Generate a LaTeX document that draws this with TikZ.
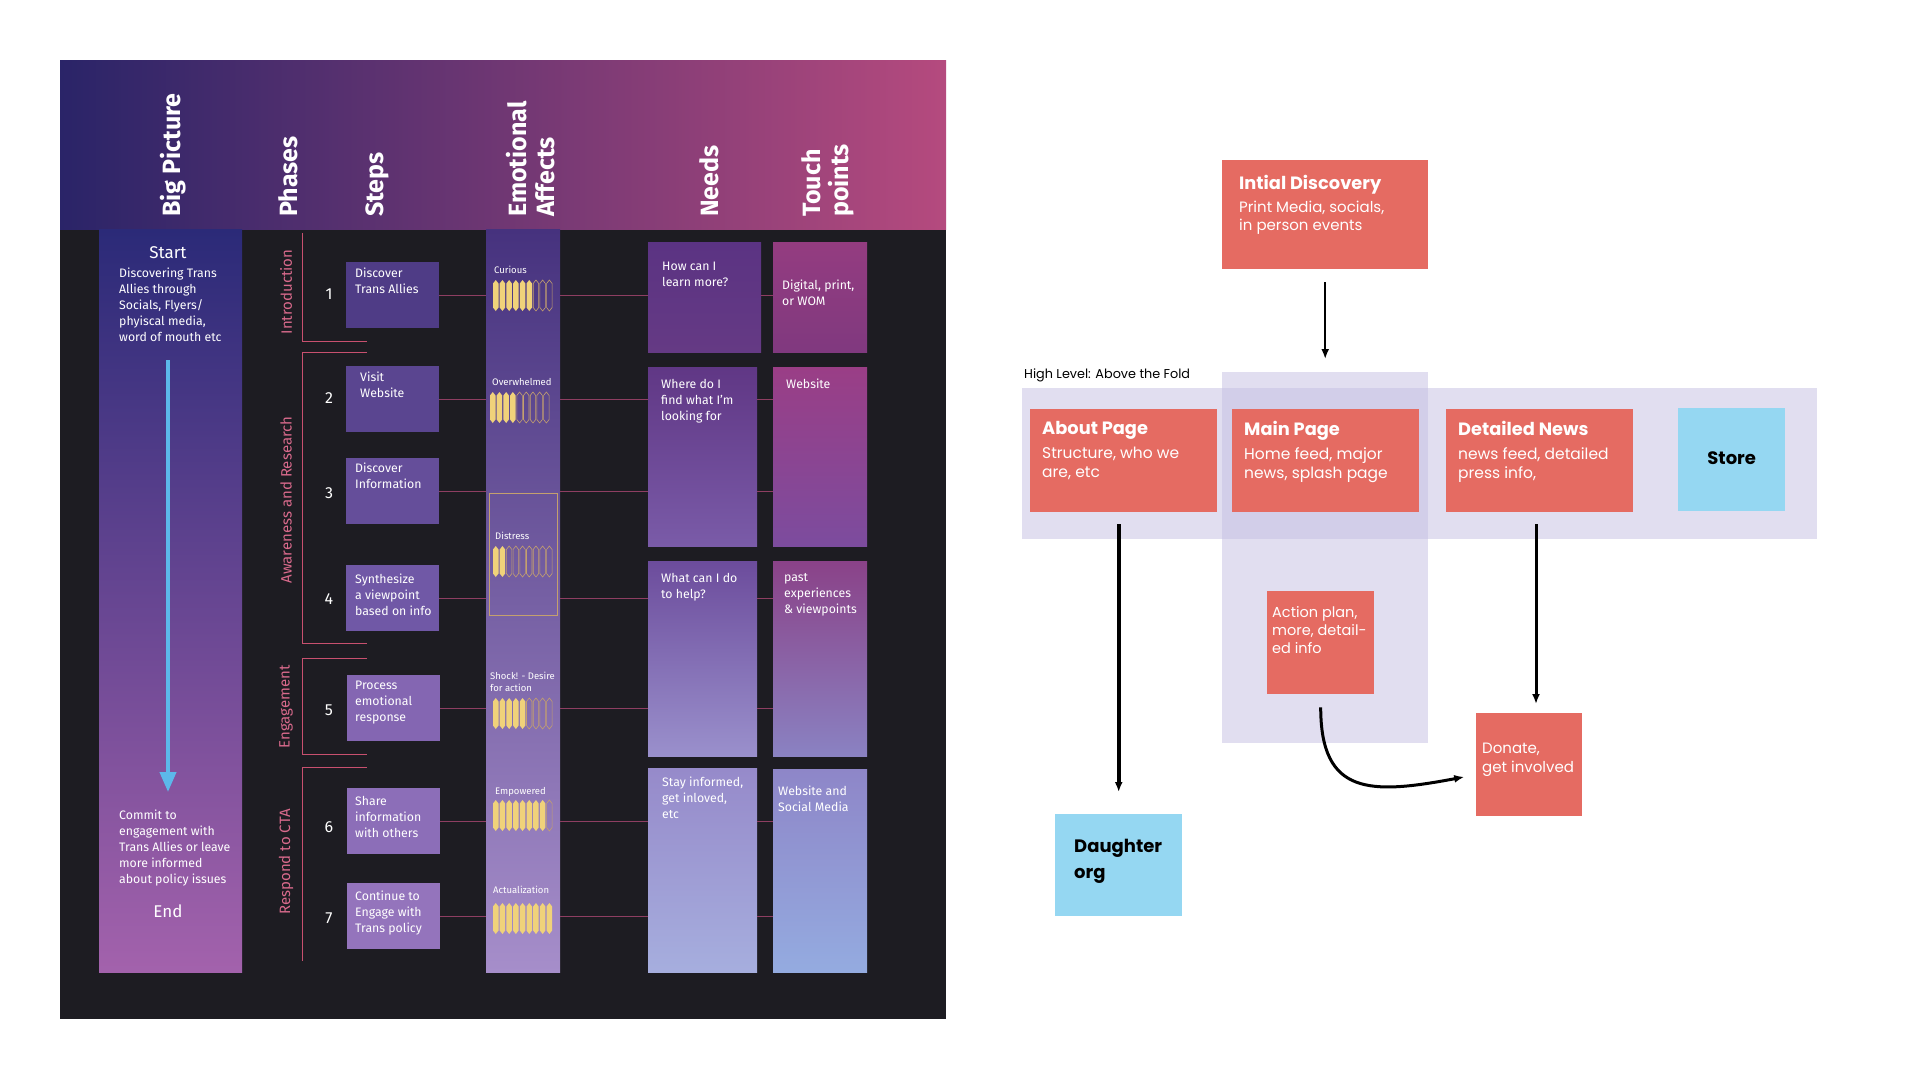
\documentclass[tikz,border=0pt]{standalone}
\usepackage{fontspec}
\setmainfont{Fira Sans}
\newfontfamily\popfont{Poppins}
\usetikzlibrary{arrows.meta}

\definecolor{darkbg}{HTML}{1D1C22}
\definecolor{hdleft}{HTML}{2A2468}
\definecolor{hdmid}{HTML}{4E3079}
\definecolor{hdright}{HTML}{B54A7E}
\definecolor{bigtop}{HTML}{2B2A78}
\definecolor{bigmid}{HTML}{4C3A8C}
\definecolor{bigbot}{HTML}{A362AC}
\definecolor{emotop}{HTML}{46327E}
\definecolor{emomid}{HTML}{7A62AA}
\definecolor{emobot}{HTML}{A68ECA}
\definecolor{linkred}{HTML}{8E3E62}
\definecolor{phasepink}{HTML}{C8506F}
\definecolor{phasetxt}{HTML}{D96A8C}
\definecolor{gaugeyel}{HTML}{F0D27A}
\definecolor{gaugetan}{HTML}{C4A06E}
\definecolor{flowblue}{HTML}{5CB8EA}
\definecolor{coral}{HTML}{E56B62}
\definecolor{skyblue}{HTML}{95D7F2}
\definecolor{foldtint}{HTML}{C5BFE3}
% step boxes
\definecolor{stepA}{HTML}{4F3C86}
\definecolor{stepB}{HTML}{5A4590}
\definecolor{stepC}{HTML}{654E9A}
\definecolor{stepD}{HTML}{7058A6}
\definecolor{stepE}{HTML}{8466B2}
\definecolor{stepF}{HTML}{8C6EB8}
\definecolor{stepG}{HTML}{9474BC}
% needs / touch points
\definecolor{needAt}{HTML}{5B3383}
\definecolor{needAb}{HTML}{653A84}
\definecolor{needBt}{HTML}{603785}
\definecolor{needBb}{HTML}{7A5BA8}
\definecolor{needCt}{HTML}{6C4C9C}
\definecolor{needCb}{HTML}{9A90CC}
\definecolor{needDt}{HTML}{968ACA}
\definecolor{needDb}{HTML}{A6AEDE}
\definecolor{touchAt}{HTML}{943C80}
\definecolor{touchAb}{HTML}{80397F}
\definecolor{touchBt}{HTML}{9A3E86}
\definecolor{touchBb}{HTML}{7C4C9E}
\definecolor{touchCt}{HTML}{8A4288}
\definecolor{touchCb}{HTML}{8A82C2}
\definecolor{touchDt}{HTML}{8E86C8}
\definecolor{touchDb}{HTML}{94ABE0}

\tikzset{
  gaugeon/.style={fill=gaugeyel},
  gaugeoff/.style={draw=gaugetan, line width=0.6pt},
}

% nine bars of the mood gauge: x, top y, number filled
\newcommand{\emobars}[3]{%
  \foreach \k in {1,...,9}{%
    \pgfmathsetmacro{\bx}{#1+(\k-1)*6.7}%
    \ifnum\k>#3\relax \def\gstyle{gaugeoff}\else \def\gstyle{gaugeon}\fi
    \path[\gstyle] (\bx,#2+3.5) -- (\bx+2.75,#2) -- (\bx+5.5,#2+3.5)
      -- (\bx+5.5,#2+27.5) -- (\bx+2.75,#2+31) -- (\bx,#2+27.5) -- cycle;
  }}

\begin{document}
\begin{tikzpicture}[x=1pt, y=-1pt,
    stepbox/.style={anchor=north west, minimum width=93pt, minimum height=66pt, inner sep=0pt},
    colbox/.style={anchor=north west, inner sep=0pt},
    hdr/.style={rotate=90, text=white, inner sep=0pt, align=left,
      font=\fontsize{25}{28}\selectfont\bfseries},
    phase/.style={rotate=90, text=phasetxt, font=\fontsize{15}{18}\selectfont},
    num/.style={text=white, font=\fontsize{16}{18}\selectfont},
    wtxt/.style={anchor=north west, inner sep=0pt, text=white, align=left,
      font=\fontsize{12.3}{16}\selectfont},
    emotxt/.style={anchor=north west, inner sep=0pt, text=white, align=left,
      font=\fontsize{9.5}{12}\selectfont},
    link/.style={linkred, line width=1pt},
    bracket/.style={phasepink, line width=1pt},
    card/.style={anchor=north west, fill=coral, inner sep=0pt},
    chip/.style={anchor=north west, fill=skyblue, inner sep=0pt},
    ttl/.style={anchor=north west, inner sep=0pt, text=white,
      font=\popfont\fontsize{17.8}{20}\selectfont\bfseries},
    body/.style={anchor=north west, inner sep=0pt, text=white, align=left,
      font=\popfont\fontsize{15.5}{19}\selectfont},
    arr/.style={-{Latex[length=10pt,width=8pt]}, line width=2.5pt},
]
\useasboundingbox[fill=white] (0,0) rectangle (1920,1080);

% ---------- journey map ----------
\fill[darkbg] (60,229) rectangle (946,1019);
\node[colbox, minimum width=886pt, minimum height=169pt,
  left color=hdleft, middle color=hdmid, right color=hdright] (head) at (60,60) {};
\node[colbox, minimum width=143pt, minimum height=743pt,
  top color=bigtop, middle color=bigmid, bottom color=bigbot] (bigcol) at (99,229) {};
\node[colbox, minimum width=74pt, minimum height=743pt,
  top color=emotop, middle color=emomid, bottom color=emobot] (emo) at (486,229) {};

\node[hdr, anchor=base west] (hbig) at (180,217) {Big Picture};
\node[hdr, anchor=base west] (hphase) at (297,217) {Phases};
\node[hdr, anchor=base west] (hstep) at (383,217) {Steps};
\node[hdr, anchor=north west] (hemo) at (506,217) {Emotional\\Affects};
\node[hdr, anchor=base west] (hneed) at (718,217) {Needs};
\node[hdr, anchor=north west] (htouch) at (801,217) {Touch\\points};

% big picture column
\node[text=white, font=\fontsize{17}{20}\selectfont] (start) at (168,253) {Start};
\node[wtxt] (bigtxt) at (119,268) {Discovering Trans\\Allies through\\Socials, Flyers/\\phyiscal media,\\word of mouth etc};
\coordinate (flowtop) at (168,360);
\coordinate (flowbot) at (168,792);
\draw[flowblue, line width=4pt, -{Triangle[length=20pt,width=16pt]}] (flowtop) -- (flowbot);
\node[wtxt] (endtxt) at (119,810) {Commit to\\engagement with\\Trans Allies or leave\\more informed\\about policy issues};
\node[text=white, font=\fontsize{17}{20}\selectfont] (end) at (168,911) {End};

% phases
\draw[bracket] (302,233) -- (302,341) -- (367,341);
\draw[bracket] (367,352) -- (302,352) -- (302,643) -- (367,643);
\draw[bracket] (367,658) -- (302,658) -- (302,754) -- (367,754);
\draw[bracket] (367,767) -- (302,767) -- (302,961);
\node[phase] (ph1) at (286,292) {Introduction};
\node[phase] (ph2) at (286,500) {Awareness and Research};
\node[phase] (ph3) at (286,707) {Engagement};
\node[phase] (ph4) at (286,862) {Respond to CTA};

% steps
\node[stepbox, fill=stepA] (s1) at (346,262) {};
\node[stepbox, fill=stepB] (s2) at (346,366) {};
\node[stepbox, fill=stepC] (s3) at (346,458) {};
\node[stepbox, fill=stepD] (s4) at (346,565) {};
\node[stepbox, fill=stepE] (s5) at (347,675) {};
\node[stepbox, fill=stepF] (s6) at (347,788) {};
\node[stepbox, fill=stepG] (s7) at (347,883) {};
\node[wtxt] (s1t) at (355,268) {Discover\\Trans Allies};
\node[wtxt] (s2t) at (360,372) {Visit\\Website};
\node[wtxt] (s3t) at (355,463) {Discover\\Information};
\node[wtxt] (s4t) at (355,574) {Synthesize\\a viewpoint\\based on info};
\node[wtxt] (s5t) at (355,681) {Process\\emotional\\response};
\node[wtxt] (s6t) at (355,796) {Share\\information\\with others};
\node[wtxt] (s7t) at (355,891) {Continue to\\Engage with\\Trans policy};
\foreach \i/\y in {1/294, 2/398, 3/493, 4/599, 5/710, 6/827, 7/918}
  \node[num] (k\i) at (329,\y) {\i};

% needs and touch points
\node[colbox, minimum width=113pt, minimum height=110pt, top color=needAt, bottom color=needAb] (n1) at (648,242) {};
\node[colbox, minimum width=109pt, minimum height=179pt, top color=needBt, bottom color=needBb] (n2) at (648,367) {};
\node[colbox, minimum width=109pt, minimum height=195pt, top color=needCt, bottom color=needCb] (n3) at (648,561) {};
\node[colbox, minimum width=109pt, minimum height=204pt, top color=needDt, bottom color=needDb] (n4) at (648,768) {};
\node[colbox, minimum width=94pt, minimum height=110pt, top color=touchAt, bottom color=touchAb] (t1) at (773,242) {};
\node[colbox, minimum width=94pt, minimum height=179pt, top color=touchBt, bottom color=touchBb] (t2) at (773,367) {};
\node[colbox, minimum width=94pt, minimum height=195pt, top color=touchCt, bottom color=touchCb] (t3) at (773,561) {};
\node[colbox, minimum width=94pt, minimum height=203pt, top color=touchDt, bottom color=touchDb] (t4) at (773,769) {};
\node[wtxt] (n1t) at (662,262) {How can I\\learn more?};
\node[wtxt] (n2t) at (661,379) {Where do I\\find what I'm\\looking for};
\node[wtxt] (n3t) at (661,573) {What can I do\\to help?};
\node[wtxt] (n4t) at (662,777) {Stay informed,\\get inloved,\\etc};
\node[wtxt] (t1t) at (782,280) {Digital, print,\\or WOM};
\node[wtxt] (t2t) at (786,379) {Website};
\node[wtxt] (t3t) at (784,573) {past\\experiences\\\& viewpoints};
\node[wtxt] (t4t) at (778,786) {Website and\\Social Media};

\foreach \i/\nd/\tp in {1/n1/t1, 2/n2/t2, 3/n2/t2, 4/n3/t3, 5/n3/t3, 6/n4/t4, 7/n4/t4}{
  \draw[link] (s\i.east) -- (s\i.east -| emo.west);
  \draw[link] (s\i.east -| emo.east) -- (s\i.east -| \nd.west);
  \draw[link] (s\i.east -| \nd.east) -- (s\i.east -| \tp.west);
}

% emotional affects
\draw[gaugetan, line width=1pt] (489,493) rectangle (557,615);
\node[emotxt] (e1) at (494,266) {Curious};
\node[emotxt] (e2) at (492,378) {Overwhelmed};
\node[emotxt] (e3) at (495,532) {Distress};
\node[emotxt] (e4) at (490,672) {Shock! - Desire\\for action};
\node[emotxt] (e5) at (495,787) {Empowered};
\node[emotxt] (e6) at (493,886) {Actualization};
\emobars{493}{280}{6}
\emobars{490}{392}{4}
\emobars{493}{546}{2}
\emobars{493}{698}{5}
\emobars{493}{800}{8}
\emobars{493}{903}{9}

% ---------- site map ----------
\fill[foldtint, opacity=0.5] (1022,388) rectangle (1817,539);
\fill[foldtint, opacity=0.5] (1222,372) rectangle (1428,743);
\node[anchor=north west, inner sep=0pt, font=\popfont\fontsize{12.8}{14}\selectfont] (fold) at (1024,369) {High Level: Above the Fold};

\node[card, minimum width=206pt, minimum height=109pt] (disc) at (1222,160) {};
\node[ttl] (disct) at (1239,175) {Intial Discovery};
\node[body, font=\popfont\fontsize{15}{17.5}\selectfont] (discb) at (1239,201) {Print Media, socials,\\in person events};

\node[card, minimum width=187pt, minimum height=103pt] (about) at (1030,409) {};
\node[ttl] (aboutt) at (1042,421) {About Page};
\node[body] (aboutb) at (1042,447) {Structure, who we\\are, etc};

\node[card, minimum width=187pt, minimum height=103pt] (mainp) at (1232,409) {};
\node[ttl] (maint) at (1244,421) {Main Page};
\node[body] (mainb) at (1244,447) {Home feed, major\\news, splash page};

\node[card, minimum width=187pt, minimum height=103pt] (det) at (1446,409) {};
\node[ttl] (dett) at (1458,421) {Detailed News};
\node[body] (detb) at (1458,447) {news feed, detailed\\press info,};

\node[chip, minimum width=107pt, minimum height=103pt,
  font=\popfont\fontsize{18}{20}\selectfont\bfseries] (store) at (1678,408) {\raisebox{3pt}{Store}};

\node[chip, minimum width=127pt, minimum height=102pt] (daughter) at (1055,814) {};
\node[anchor=north west, inner sep=0pt, align=left,
  font=\popfont\fontsize{18}{26}\selectfont\bfseries] (daughtert) at (1074,839) {Daughter\\org};

\node[card, minimum width=107pt, minimum height=103pt] (act) at (1267,591) {};
\node[body, font=\popfont\fontsize{14.5}{18}\selectfont] (actt) at (1272,606) {Action plan,\\more, detail-\\ed info};

\node[card, minimum width=106pt, minimum height=103pt] (don) at (1476,713) {};
\node[body, font=\popfont\fontsize{15}{18.5}\selectfont] (dont) at (1482,743) {Donate,\\get involved};

\draw[arr, shorten <=13pt, shorten >=50pt] (disc.south) -- (disc.south |- mainp.north);
\draw[arr, line width=4pt, shorten <=12pt, shorten >=22pt] (about.south -| daughter.north) -- (daughter.north);
\draw[arr, line width=3pt, shorten <=12pt, shorten >=9pt] (det.south -| 1536,0) -- (1536,0 |- don.north);
\draw[arr, line width=3pt, shorten <=13pt, shorten >=12pt]
  (act.south) .. controls +(0,101) and +(-106,20) .. ([yshift=-10pt]don.west);
\end{tikzpicture}
\end{document}
